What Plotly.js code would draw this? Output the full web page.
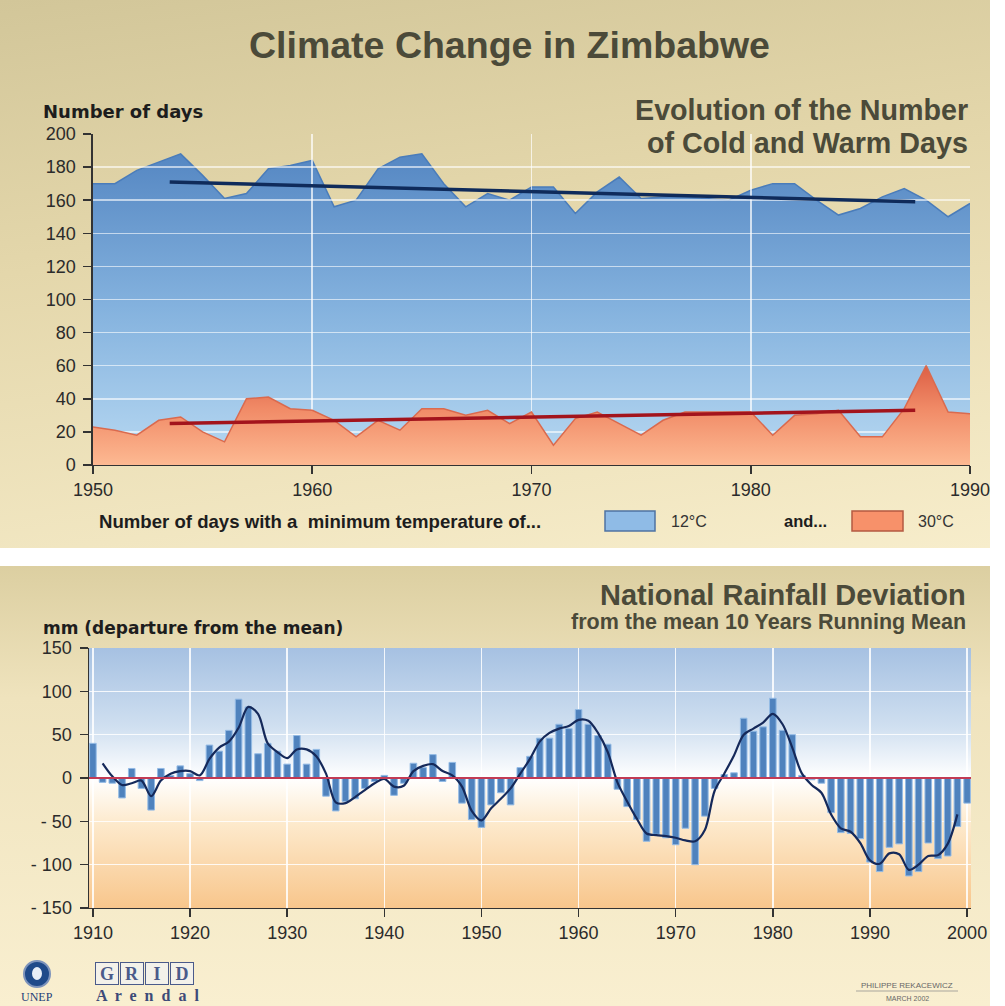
<!DOCTYPE html>
<html><head><meta charset="utf-8">
<script src="https://cdn.plot.ly/plotly-3.0.1.min.js"></script>
<style>
html,body{margin:0;padding:0;background:#fff;}
#wrap{position:relative;width:1005px;height:1006px;overflow:hidden;background:#fff;}
#bgTop{position:absolute;left:0;top:0;width:990px;height:548px;background:linear-gradient(172deg,#d2c699 0%,#e4d7ab 40%,#f7edcb 100%);}
#bgBot{position:absolute;left:0;top:566px;width:990px;height:440px;background:linear-gradient(180deg,#dccfa1 0%,#efe3bd 30%,#f9efd0 100%);}
#plotBg{position:absolute;left:89px;top:648px;width:882px;height:260px;background:linear-gradient(180deg,#a6c1e2 0%,#cfdff0 30%,#ffffff 50%,#fde9cb 68%,#f8c68c 100%);}
#chart{position:absolute;left:0;top:0;width:1005px;height:1006px;}
</style></head>
<body><div id="wrap"><div id="bgTop"></div><div id="bgBot"></div><div id="plotBg"></div><div id="chart"></div></div>
<script>
// ---------- Top chart: number of cold and warm days ----------
const dayYears = [1950,1951,1952,1953,1954,1955,1956,1957,1958,1959,
  1960,1961,1962,1963,1964,1965,1966,1967,1968,1969,
  1970,1971,1972,1973,1974,1975,1976,1977,1978,1979,
  1980,1981,1982,1983,1984,1985,1986,1987,1988,1989,1990];
const coldDays = [170,170,178,183,188,175,161,164,179,181,
  184,156,160,179,186,188,170,156,164,160,
  168,168,152,165,174,161,162,162,161,160,
  166,170,170,160,151,155,162,167,160,150,158];
const warmDays = [23,21,18,27,29,20,14,40,41,34,
  33,27,17,27,21,34,34,30,33,25,
  32,12,28,32,25,18,27,32,32,32,
  32,18,30,31,33,17,17,34,60,32,31];
const trendYears = [1953.5, 1987.5];
const coldTrend = [171, 159];
const warmTrend = [25, 33];
const dayXTicks = [1950,1960,1970,1980,1990];
const dayYTicks = [0,20,40,60,80,100,120,140,160,180,200];

// ---------- Bottom chart: national rainfall deviation ----------
const rainYears = [1910,1911,1912,1913,1914,1915,1916,1917,1918,1919,
  1920,1921,1922,1923,1924,1925,1926,1927,1928,1929,
  1930,1931,1932,1933,1934,1935,1936,1937,1938,1939,
  1940,1941,1942,1943,1944,1945,1946,1947,1948,1949,
  1950,1951,1952,1953,1954,1955,1956,1957,1958,1959,
  1960,1961,1962,1963,1964,1965,1966,1967,1968,1969,
  1970,1971,1972,1973,1974,1975,1976,1977,1978,1979,
  1980,1981,1982,1983,1984,1985,1986,1987,1988,1989,
  1990,1991,1992,1993,1994,1995,1996,1997,1998,1999,2000];
const rainDeviation = [40,-5,-6,-23,11,-12,-37,11,3,14,
  5,-3,38,31,55,91,82,28,40,31,
  16,49,16,33,-21,-38,-27,-24,-12,-4,
  3,-20,-6,17,12,27,-4,18,-29,-48,
  -57,-31,-17,-31,12,25,46,46,62,57,
  79,62,49,39,-13,-33,-48,-73,-65,-69,
  -77,-58,-100,-44,-12,4,6,69,54,59,
  92,55,50,3,-2,-6,-40,-63,-64,-70,
  -97,-108,-80,-76,-113,-108,-75,-93,-90,-56,-29];
const meanYears = [1911,1912,1913,1914,1915,1916,1917,1918,1919,
  1920,1921,1922,1923,1924,1925,1926,1927,1928,1929,
  1930,1931,1932,1933,1934,1935,1936,1937,1938,1939,
  1940,1941,1942,1943,1944,1945,1946,1947,1948,1949,
  1950,1951,1952,1953,1954,1955,1956,1957,1958,1959,
  1960,1961,1962,1963,1964,1965,1966,1967,1968,1969,
  1970,1971,1972,1973,1974,1975,1976,1977,1978,1979,
  1980,1981,1982,1983,1984,1985,1986,1987,1988,1989,
  1990,1991,1992,1993,1994,1995,1996,1997,1998,1999];
const runningMean = [17,2,-8,-6,-3,-21,-3,5,8,
  8,3,22,35,42,58,82,74,40,30,
  23,33,33,25,5,-28,-29,-22,-14,-6,
  -1,-10,-9,8,14,16,8,3,-10,-38,
  -49,-35,-24,-12,5,22,42,52,57,60,
  67,66,52,30,-5,-27,-47,-64,-66,-67,
  -69,-72,-73,-60,-15,5,26,50,57,64,
  74,62,35,5,-8,-17,-42,-58,-62,-75,
  -95,-99,-87,-88,-106,-100,-90,-89,-76,-42];
const rainXTicks = [1910,1920,1930,1940,1950,1960,1970,1980,1990,2000];
const rainYTicks = [-150,-100,-50,0,50,100,150];
const rainYTickText = ['- 150','- 100','- 50','0','50','100','150'];

// ---------- styling ----------
const SANS = 'Liberation Sans, Arial, Helvetica, sans-serif';
const WIDE = 'DejaVu Sans, Verdana, sans-serif';
const SERIF = 'Liberation Serif, Times New Roman, serif';
const TXT = '#4b4a39';
const AX = '#333333';
const tickFont = {family: SANS, size: 18, color: '#2b2b2b'};

const topX = [0.0925, 0.9652];
const topY = [0.5378, 0.8668];

const traces = [
  // subplot A (drawn first): blue area for 12°C days
  {type:'scatter', x: dayYears, y: coldDays, xaxis:'x', yaxis:'y', mode:'lines',
   fill:'tozeroy', line:{color:'#4a7cba', width:1.5},
   fillgradient:{type:'vertical', start:0, stop:190,
     colorscale:[[0,'#b8d9f2'],[0.5,'#84b2de'],[1,'#5486c2']]},
   hoverinfo:'skip', showlegend:false},
  // bottom chart
  {type:'bar', x: rainYears, y: rainDeviation, xaxis:'x2', yaxis:'y2', width:0.68,
   marker:{color:'#4f82bd', line:{color:'#94bbe5', width:1}}, hoverinfo:'skip', showlegend:false},
  {type:'scatter', x: meanYears, y: runningMean, xaxis:'x2', yaxis:'y2', mode:'lines',
   line:{color:'#15295a', width:2.2, shape:'spline', smoothing:0.9}, hoverinfo:'skip', showlegend:false},
  // subplot B (drawn over A): red area for 30°C days + trend lines
  {type:'scatter', x: dayYears, y: warmDays, xaxis:'x3', yaxis:'y3', mode:'lines',
   fill:'tozeroy', line:{color:'#da6a4e', width:1.5},
   fillgradient:{type:'vertical', start:0, stop:60,
     colorscale:[[0,'#fdb992'],[0.55,'#f18c68'],[1,'#dd5f45']]},
   hoverinfo:'skip', showlegend:false},
  {type:'scatter', x: trendYears, y: coldTrend, xaxis:'x3', yaxis:'y3', mode:'lines',
   line:{color:'#0f2b5b', width:3.5}, hoverinfo:'skip', showlegend:false},
  {type:'scatter', x: trendYears, y: warmTrend, xaxis:'x3', yaxis:'y3', mode:'lines',
   line:{color:'#a3141c', width:3.5}, hoverinfo:'skip', showlegend:false}
];

function px(x){return x/1005;}
function py(y){return 1 - y/1006;}

const ann = (text, x, y, opts) => Object.assign({text, x: px(x), y: py(y), xref:'paper', yref:'paper',
  showarrow:false, xanchor:'left', yanchor:'middle'}, opts);

const gridBox = (letter, x) => ann(letter, x, 973, {xanchor:'center', width:22, height:21,
  bordercolor:'#4a5a8a', borderwidth:1, borderpad:0, bgcolor:'#f3f1ea',
  font:{family:SERIF, size:18, weight:'bold', color:'#4a5a8a'}});

const annotations = [
  ann('Climate Change in Zimbabwe', 509, 45, {xanchor:'center', font:{family:SANS, size:37.5, weight:'bold', color:TXT}}),
  ann('Evolution of the Number', 970, 110, {xanchor:'right', font:{family:SANS, size:28.7, weight:'bold', color:TXT}}),
  ann('of Cold and Warm Days', 970, 143, {xanchor:'right', font:{family:SANS, size:28.7, weight:'bold', color:TXT}}),
  ann('Number of days', 41, 111, {font:{family:WIDE, size:18, weight:'bold', color:'#1d1d1d'}}),
  ann('Number of days with a  minimum temperature of...', 97, 521, {font:{family:SANS, size:18.6, weight:'bold', color:'#1d1d1d'}}),
  ann('12°C', 669, 521, {font:{family:SANS, size:16, color:'#333'}}),
  ann('and...', 782, 521, {font:{family:SANS, size:16.5, weight:'bold', color:'#1d1d1d'}}),
  ann('30°C', 916, 521, {font:{family:SANS, size:16, color:'#333'}}),
  ann('National Rainfall Deviation', 968, 595, {xanchor:'right', font:{family:SANS, size:29, weight:'bold', color:TXT}}),
  ann('from the mean 10 Years Running Mean', 968, 622, {xanchor:'right', font:{family:SANS, size:21.5, weight:'bold', color:TXT}}),
  ann('mm (departure from the mean)', 41, 628, {font:{family:WIDE, size:17, weight:'bold', color:'#1d1d1d'}}),
  // footer
  ann('UNEP', 37, 997, {xanchor:'center', font:{family:SERIF, size:12, color:'#1f3f78'}}),
  gridBox('G', 107), gridBox('R', 132), gridBox('I', 157), gridBox('D', 182),
  ann('A  r  e  n  d  a  l', 147, 995, {xanchor:'center', font:{family:SERIF, size:16, weight:'bold', color:'#3d4a78'}}),
  ann('PHILIPPE REKACEWICZ', 907, 985, {xanchor:'center', font:{family:SANS, size:8, color:'#666'}}),
  ann('MARCH 2002', 907, 998, {xanchor:'center', font:{family:SANS, size:7, color:'#666'}})
];

const shapes = [
  {type:'line', xref:'x2 domain', yref:'y2', x0:0, x1:1, y0:0, y1:0, line:{color:'#c23b55', width:2}, layer:'above'},
  // legend swatches
  {type:'rect', xref:'paper', yref:'paper', x0:px(605), x1:px(655), y0:py(531), y1:py(511),
   fillcolor:'#8fbbe6', line:{color:'#4f73a2', width:1.5}},
  {type:'rect', xref:'paper', yref:'paper', x0:px(852), x1:px(903), y0:py(531), y1:py(511),
   fillcolor:'#f7916a', line:{color:'#b45a42', width:1.5}},
  // UNEP emblem
  {type:'circle', xref:'paper', yref:'paper', x0:px(24), x1:px(50), y0:py(987), y1:py(961),
   fillcolor:'#1f4a8a', line:{color:'#7d93bb', width:2}},
  {type:'circle', xref:'paper', yref:'paper', x0:px(32), x1:px(42), y0:py(980), y1:py(967),
   fillcolor:'#e8eef7', line:{width:0}},
  // signature underline
  {type:'line', xref:'paper', yref:'paper', x0:px(856), x1:px(958), y0:py(991), y1:py(991), line:{color:'#888', width:0.7}}
];

const commonAxis = {ticks:'outside', ticklen:8, tickwidth:1.5, tickcolor:AX, showline:true,
  linecolor:AX, linewidth:1.5, zeroline:false, tickfont:tickFont, fixedrange:true};

const layout = {
  width:1005, height:1006, margin:{l:0,r:0,t:0,b:0},
  paper_bgcolor:'rgba(0,0,0,0)', plot_bgcolor:'rgba(0,0,0,0)',
  showlegend:false, hovermode:false,
  xaxis:{domain:topX, range:[1950,1990], visible:false, anchor:'y', fixedrange:true},
  yaxis:{domain:topY, range:[0,200], visible:false, anchor:'x', fixedrange:true},
  xaxis3:Object.assign({}, commonAxis, {domain:topX, range:[1950,1990], anchor:'y3',
    tickmode:'array', tickvals:dayXTicks, showgrid:true, gridcolor:'rgba(255,255,255,0.7)', gridwidth:1.5}),
  yaxis3:Object.assign({}, commonAxis, {domain:topY, range:[0,200], anchor:'x3',
    tickmode:'array', tickvals:dayYTicks, showgrid:true, gridcolor:'rgba(255,255,255,0.6)', gridwidth:1.5,
    ticklabelstandoff:4}),
  xaxis2:Object.assign({}, commonAxis, {domain:[0.08856,0.96617], range:[1909.6,2000.4], anchor:'y2',
    tickmode:'array', tickvals:rainXTicks, showgrid:true, gridcolor:'rgba(255,255,255,0.85)', gridwidth:1.5}),
  yaxis2:Object.assign({}, commonAxis, {domain:[0.09742,0.35586], range:[-150,150], anchor:'x2',
    tickmode:'array', tickvals:rainYTicks, ticktext:rainYTickText, showgrid:true,
    gridcolor:'rgba(255,255,255,0.85)', gridwidth:1.5, ticklabelstandoff:4}),
  annotations, shapes
};

Plotly.newPlot('chart', traces, layout, {displayModeBar:false, staticPlot:true});
</script>
</body></html>
